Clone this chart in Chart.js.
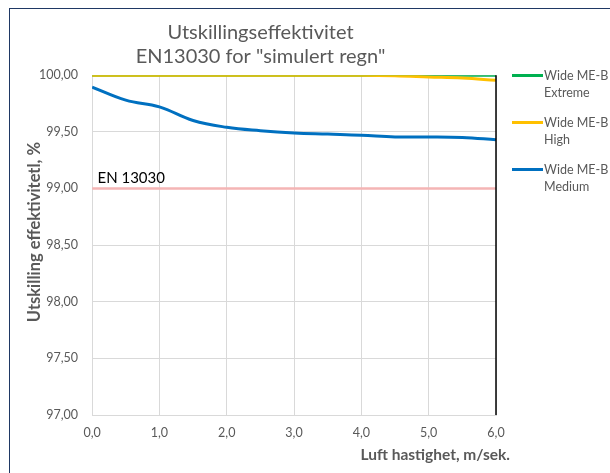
<!DOCTYPE html>
<html lang="no">
<head>
    <meta charset="UTF-8">
    <title>Utskillingseffektivitet</title>
    <script src="https://cdn.jsdelivr.net/npm/chart.js"></script>
    <style>
        body { margin: 0; background: #fff; font-family: Lato, "Open Sans", sans-serif; }
        .frame {
            position: absolute; left: 9px; top: 8px; width: 601px; height: 465px;
            border-left: 1.5px solid #1f3864; border-top: 1.5px solid #1f3864;
        }
        .legend { position: absolute; left: 512px; top: 67px; font-size: 12.5px; color: #595959; white-space: nowrap; }
        .legend .item { display: flex; align-items: flex-start; height: 47px; }
        .legend .swatch { width: 31px; height: 3px; margin-top: 7px; margin-right: 1px; flex: none; }
        .legend .txt { line-height: 17px; }
    </style>
</head>
<body>
    <div class="frame">
        <canvas id="chart" width="600" height="465"></canvas>
    </div>
    <div class="legend" id="legend"></div>

    <script>
        // data
        const speeds = [0, 0.5, 1, 1.5, 2, 2.5, 3, 3.5, 4, 4.5, 5, 5.5, 6];
        const extreme = [100, 100, 100, 100, 100, 100, 100, 100, 100, 100, 100, 100, 100];
        const high = [100, 100, 100, 100, 100, 100, 100, 100, 100, 99.995, 99.985, 99.975, 99.955];
        const medium = [99.895, 99.78, 99.72, 99.60, 99.54, 99.51, 99.49, 99.48, 99.47, 99.455, 99.455, 99.45, 99.43];
        const limitX = [0, 6];
        const limitY = [99, 99];
        const seriesNames = ['Wide ME-B Extreme', 'Wide ME-B High', 'Wide ME-B Medium'];
        const seriesColors = ['#00b050', '#ffc000', '#0070c0'];

        const pts = (xs, ys) => xs.map((x, i) => ({ x: x, y: ys[i] }));
        const grey = '#595959';
        const font = 'Lato, "Open Sans", sans-serif';

        // right border of plot, EN 13030 label and both axis titles
        const extras = {
            id: 'extras',
            afterDraw(chart) {
                const ctx = chart.ctx, a = chart.chartArea;
                const sx = chart.scales.x, sy = chart.scales.y;
                ctx.save();
                ctx.strokeStyle = '#000';
                ctx.lineWidth = 1.5;
                ctx.beginPath();
                ctx.moveTo(a.right, a.top);
                ctx.lineTo(a.right, a.bottom);
                ctx.stroke();
                ctx.fillStyle = '#000';
                ctx.font = '15px ' + font;
                ctx.textBaseline = 'bottom';
                ctx.fillText('EN 13030', sx.getPixelForValue(0.08), sy.getPixelForValue(99) - 3);
                ctx.fillStyle = grey;
                ctx.font = 'bold 15.5px ' + font;
                ctx.textAlign = 'right';
                ctx.textBaseline = 'middle';
                ctx.fillText('Luft hastighet, m/sek.', a.right + 14, a.bottom + 40);
                ctx.translate(a.left - 57, (a.top + a.bottom) / 2 - 13);
                ctx.rotate(-Math.PI / 2);
                ctx.textAlign = 'center';
                ctx.font = 'bold 16.5px ' + font;
                ctx.fillText('Utskilling effektivitetl, %', 0, 0);
                ctx.restore();
            }
        };

        new Chart(document.getElementById('chart'), {
            type: 'line',
            data: {
                datasets: [
                    { label: 'EN 13030', data: pts(limitX, limitY), borderColor: '#f4b5b5', borderWidth: 2.5, pointRadius: 0, order: 4 },
                    { label: seriesNames[2], data: pts(speeds, medium), borderColor: seriesColors[2], borderWidth: 3, pointRadius: 0, tension: 0.4, order: 3 },
                    { label: seriesNames[0], data: pts(speeds, extreme), borderColor: seriesColors[0], borderWidth: 3, pointRadius: 0, tension: 0.4, order: 2 },
                    { label: seriesNames[1], data: pts(speeds, high), borderColor: seriesColors[1], borderWidth: 3, pointRadius: 0, tension: 0.4, order: 1 }
                ]
            },
            options: {
                responsive: false,
                animation: false,
                layout: { padding: { left: 15, right: 114, top: 0, bottom: 24 } },
                plugins: {
                    legend: { display: false },
                    tooltip: { enabled: false },
                    title: {
                        display: true,
                        text: ['Utskillingseffektivitet', 'EN13030 for "simulert regn"'],
                        color: grey,
                        font: { family: font, size: 20, weight: 'normal', lineHeight: 1.18 },
                        padding: { top: 12, bottom: 7 }
                    }
                },
                scales: {
                    x: {
                        type: 'linear', min: 0, max: 6,
                        ticks: {
                            stepSize: 1, color: grey, padding: 10,
                            font: { family: font, size: 12.5 },
                            callback: v => v.toFixed(1).replace('.', ',')
                        },
                        grid: { color: '#d9d9d9', drawTicks: false, lineWidth: 1 },
                        border: { color: '#d9d9d9' }
                    },
                    y: {
                        min: 97, max: 100,
                        ticks: {
                            stepSize: 0.5, color: grey, padding: 14,
                            font: { family: font, size: 12.5 },
                            callback: v => v.toFixed(2).replace('.', ',')
                        },
                        grid: { color: '#d9d9d9', drawTicks: false, lineWidth: 1 },
                        border: { color: '#d9d9d9' }
                    }
                }
            },
            plugins: [extras]
        });

        // legend with wrapped names, as in the original
        const legend = document.getElementById('legend');
        seriesNames.forEach((name, i) => {
            const words = name.split(' ');
            const item = document.createElement('div');
            item.className = 'item';
            item.innerHTML = '<div class="swatch" style="background:' + seriesColors[i] + '"></div>' +
                '<div class="txt">' + words.slice(0, 2).join(' ') + '<br>' + words.slice(2).join(' ') + '</div>';
            legend.appendChild(item);
        });
    </script>
</body>
</html>
